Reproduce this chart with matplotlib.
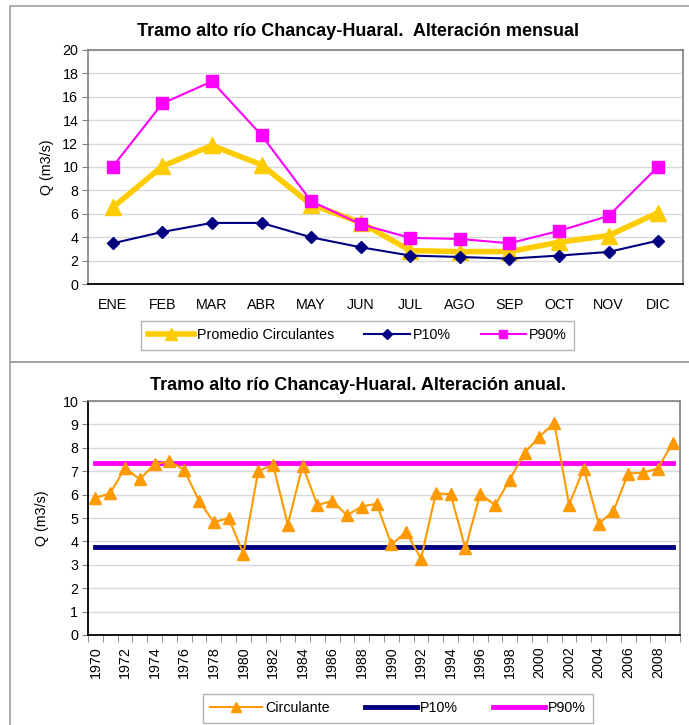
import matplotlib
matplotlib.use("Agg")
import matplotlib.pyplot as plt
from matplotlib.patches import Rectangle
import numpy as np

plt.rcParams['font.family'] = ['Liberation Sans', 'DejaVu Sans']

# ---- Data: monthly ----
months = ["ENE", "FEB", "MAR", "ABR", "MAY", "JUN", "JUL", "AGO", "SEP", "OCT", "NOV", "DIC"]
promedio = [6.55, 10.07, 11.84, 10.19, 6.79, 5.25, 2.85, 2.77, 2.77, 3.57, 4.14, 6.10]
p10_mensual = [3.48, 4.45, 5.22, 5.22, 3.99, 3.14, 2.43, 2.31, 2.17, 2.43, 2.74, 3.71]
p90_mensual = [10.04, 15.43, 17.32, 12.72, 7.08, 5.11, 3.94, 3.85, 3.48, 4.54, 5.82, 10.04]

# ---- Data: annual ----
years = list(range(1970, 2010))
circulante = [5.85, 6.06, 7.14, 6.65, 7.30, 7.43, 7.06, 5.73, 4.82, 5.00,
              3.48, 7.00, 7.28, 4.72, 7.24, 5.55, 5.73, 5.12, 5.49, 5.61,
              3.87, 4.40, 3.26, 6.05, 6.02, 3.70, 6.04, 5.54, 6.64, 7.79,
              8.47, 9.07, 5.57, 7.11, 4.76, 5.29, 6.90, 6.94, 7.11, 8.21]
p10_anual = 3.77
p90_anual = 7.36

W, H = 689, 725
fig = plt.figure(figsize=(W / 100, H / 100), dpi=100)

def ax_rect(l, t, r, b):
    return [l / W, (H - b) / H, (r - l) / W, (b - t) / H]

# outer chart frames
fig.add_artist(Rectangle((10 / W, (H - 362) / H), (W + 5 - 10) / W, 356 / H,
                         transform=fig.transFigure, fill=False, ec="#a0a0a0", lw=1.2))
fig.add_artist(Rectangle((10 / W, -5 / H), (W + 5 - 10) / W, (H - 362 + 5) / H,
                         transform=fig.transFigure, fill=False, ec="#a0a0a0", lw=1.2))

grid_c = "#d9d9d9"
tick_fs = 10.3

# ---------------- Top chart ----------------
ax1 = fig.add_axes(ax_rect(88, 50, 683, 284))
x = np.arange(len(months))
ax1.plot(x, promedio, color="#FFCC00", lw=4, marker="^", ms=11, mec="#FFCC00",
         label="Promedio Circulantes", zorder=3)
ax1.plot(x, p10_mensual, color="#000080", lw=1.5, marker="D", ms=6, mec="#000080",
         label="P10%", zorder=4)
ax1.plot(x, p90_mensual, color="#FF00FF", lw=1.5, marker="s", ms=8, mec="#FF00FF",
         label="P90%", zorder=5)
ax1.set_xlim(-0.5, len(months) - 0.5)
ax1.set_ylim(0, 20)
ax1.set_yticks(range(0, 21, 2))
ax1.set_xticks(x)
ax1.set_xticklabels(months)
ax1.tick_params(axis="x", length=0, pad=10, labelsize=tick_fs)
ax1.tick_params(axis="y", length=4, pad=3, labelsize=tick_fs, color="#808080")
for yv in range(2, 21, 2):
    ax1.axhline(yv, color=grid_c, lw=1, zorder=0)
for s in ["top", "right", "left"]:
    ax1.spines[s].set_color("#808080")
    ax1.spines[s].set_linewidth(1.2)
ax1.spines["bottom"].set_color("black")
ax1.spines["bottom"].set_linewidth(1.3)
ax1.set_ylabel("Q (m3/s)", fontsize=tick_fs, labelpad=6)
fig.text(358 / W, (H - 32) / H, "Tramo alto río Chancay-Huaral.  Alteración mensual",
         fontsize=13, fontweight="bold", ha="center", va="center")
leg1 = ax1.legend(loc="center", bbox_to_anchor=(357.5 / W, (H - 335.5) / H),
                  bbox_transform=fig.transFigure, ncol=3, fontsize=tick_fs,
                  frameon=True, fancybox=False, edgecolor="#a0a0a0",
                  handlelength=3.2, handletextpad=0.2, columnspacing=2.1,
                  borderpad=0.5, markerscale=0.8)
leg1.get_frame().set_linewidth(1.0)

# ---------------- Bottom chart ----------------
ax2 = fig.add_axes(ax_rect(88, 401, 680, 635))
xi = np.arange(len(years))
ax2.plot(xi, circulante, color="#FF9900", lw=1.5, marker="^", ms=9, mec="#FF9900",
         label="Circulante", zorder=4)
ax2.plot([xi[0], xi[-1]], [p10_anual, p10_anual], color="#000080", lw=3.5,
         label="P10%", zorder=3)
ax2.plot([xi[0], xi[-1]], [p90_anual, p90_anual], color="#FF00FF", lw=3.5,
         label="P90%", zorder=3)
ax2.set_xlim(-0.5, len(years) - 0.5)
ax2.set_ylim(0, 10)
ax2.set_yticks(range(0, 11))
ax2.set_xticks(xi[::2])
ax2.set_xticklabels([str(y) for y in years[::2]], rotation=90)
ax2.set_xticks(np.arange(-0.5, len(years), 1.0), minor=True)
ax2.tick_params(axis="x", which="major", length=0, pad=8, labelsize=tick_fs)
ax2.tick_params(axis="x", which="minor", length=5, color="#808080")
ax2.tick_params(axis="y", length=4, pad=3, labelsize=tick_fs, color="#808080")
for yv in range(1, 11):
    ax2.axhline(yv, color=grid_c, lw=1, zorder=0)
for s in ["top", "right"]:
    ax2.spines[s].set_color("#808080")
    ax2.spines[s].set_linewidth(1.2)
for s in ["bottom", "left"]:
    ax2.spines[s].set_color("black")
    ax2.spines[s].set_linewidth(1.3)
ax2.set_ylabel("Q (m3/s)", fontsize=tick_fs, labelpad=10)
fig.text(358 / W, (H - 386) / H, "Tramo alto río Chancay-Huaral. Alteración anual.",
         fontsize=13, fontweight="bold", ha="center", va="center")
leg2 = ax2.legend(loc="center", bbox_to_anchor=(398 / W, (H - 708.5) / H),
                  bbox_transform=fig.transFigure, ncol=3, fontsize=tick_fs,
                  frameon=True, fancybox=False, edgecolor="#a0a0a0",
                  handlelength=3.6, handletextpad=0.2, columnspacing=2.5,
                  borderpad=0.5, markerscale=0.8)
leg2.get_frame().set_linewidth(1.0)

fig.savefig("out.png", dpi=100)
